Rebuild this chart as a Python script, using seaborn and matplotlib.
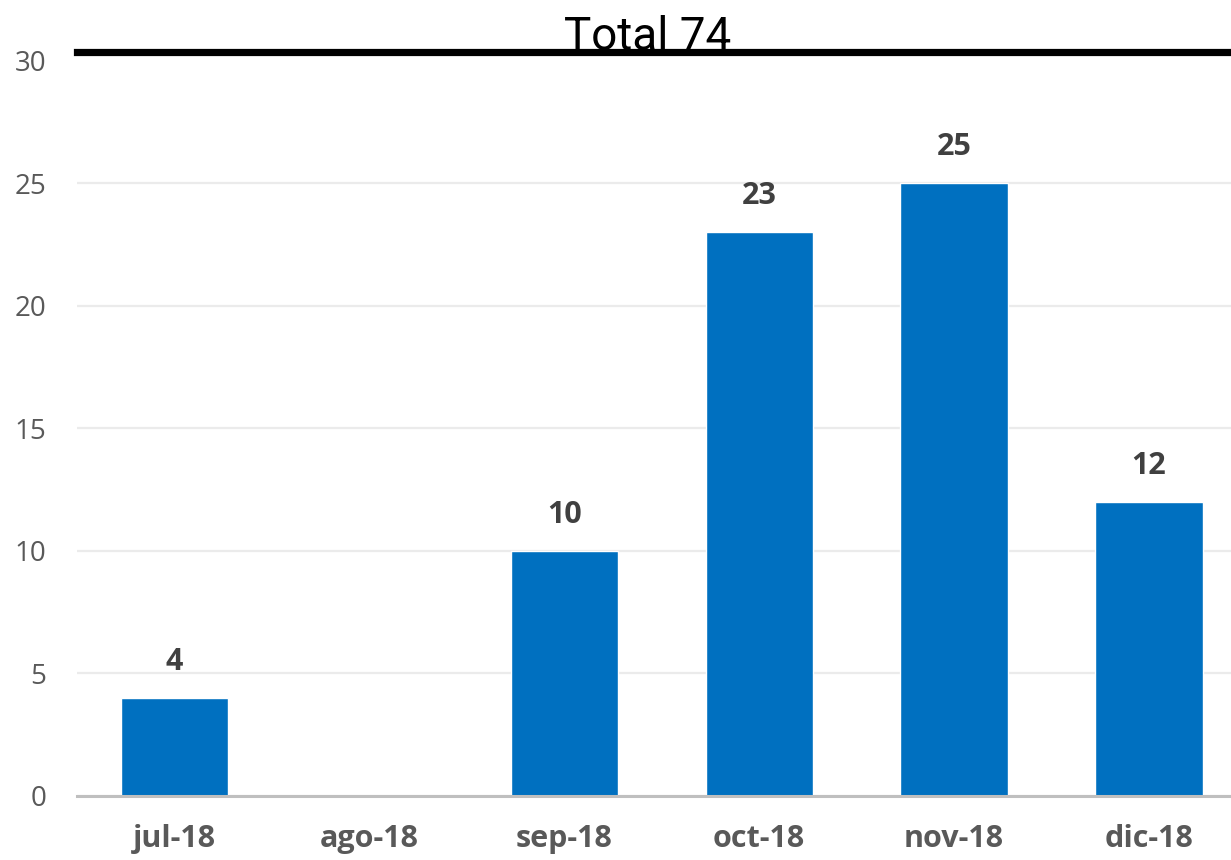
import matplotlib
matplotlib.use("Agg")
import matplotlib.pyplot as plt
import seaborn as sns
import pandas as pd

categories = ["jul-18", "ago-18", "sep-18", "oct-18", "nov-18", "dic-18"]
values = [4, 0, 10, 23, 25, 12]
title_text = "Total 74"
y_ticks = [0, 5, 10, 15, 20, 25, 30]

sns.set_style("white")
plt.rcParams['font.family'] = ['Open Sans', 'DejaVu Sans']

df = pd.DataFrame({"mes": categories, "n": values})

fig = plt.figure(figsize=(12.31, 8.6), dpi=100)
ax = fig.add_axes([77/1231, 64/860, 1169.4/1231, 744/860])

sns.barplot(data=df, x="mes", y="n", color="#0070C0", width=0.55,
            saturation=1, ax=ax, zorder=3)

ax.set_xlim(-0.5, len(categories) - 0.5)
ax.set_ylim(0, 30.35)
ax.set_yticks(y_ticks)
ax.set_xlabel("")
ax.set_ylabel("")

ax.grid(axis="y", color="#ebebeb", linewidth=1.6, zorder=0)
ax.grid(axis="x", visible=False)
ax.get_ygridlines()[-1].set_visible(False)
for s in ["left", "right"]:
    ax.spines[s].set_visible(False)
ax.spines["bottom"].set_color("#bfbfbf")
ax.spines["bottom"].set_linewidth(2.2)
ax.spines["bottom"].set_zorder(4)
ax.spines["top"].set_color("black")
ax.spines["top"].set_linewidth(5.2)

ax.tick_params(axis="y", length=0, pad=22, labelsize=20, labelcolor="#595959")
ax.tick_params(axis="x", length=0, pad=20, labelsize=22, labelcolor="#595959")
for lab in ax.get_xticklabels():
    lab.set_fontweight("bold")

for i, v in enumerate(values):
    if v > 0:
        ax.annotate(str(v), xy=(i, v), xytext=(0, 26), textcoords="offset points",
                    ha="center", va="center", fontsize=22, fontweight="bold",
                    color="#404040")

fig.text(648/1231, 1 - 50/860, title_text, ha="center", va="baseline",
         fontsize=33, color="black",
         family=["Roboto", "DejaVu Sans"])

fig.savefig("out.png", dpi=100)
